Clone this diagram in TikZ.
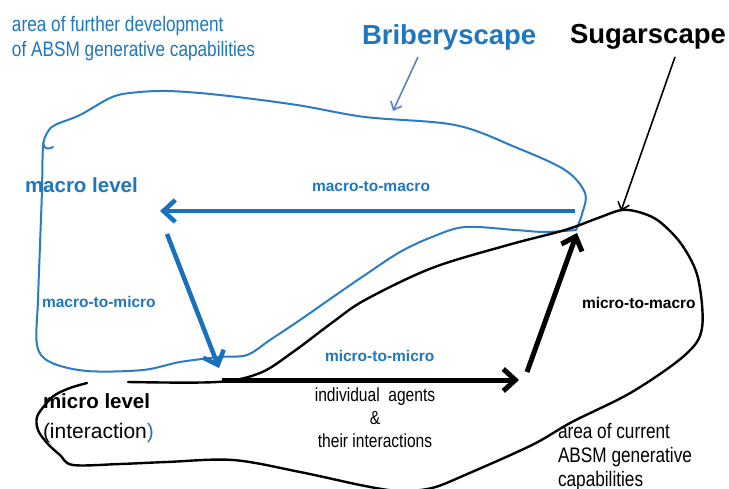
\documentclass[tikz,border=0pt]{standalone}
\usepackage{fontspec}
\setmainfont{Liberation Sans}
\newfontfamily\narrowf[FakeStretch=0.82]{Liberation Sans}
\usetikzlibrary{arrows.meta}
\definecolor{tblue}{HTML}{1F77BE}
\definecolor{cblue}{HTML}{2A7DC5}
\definecolor{ablue}{HTML}{1B70BD}
\definecolor{gblue}{HTML}{5A82C4}
\begin{document}
\begin{tikzpicture}[x=1pt,y=-1pt,
  lbl/.style={inner sep=0pt, outer sep=0pt, anchor=base west},
  clbl/.style={inner sep=0pt, outer sep=0pt, anchor=base},
  bigtitle/.style={font=\bfseries\fontsize{27.5}{32}\selectfont},
  levelfont/.style={font=\bfseries\fontsize{20.5}{24}\selectfont},
  linkfont/.style={font=\bfseries\fontsize{15.5}{18}\selectfont},
  narrowtext/.style={font=\narrowf\fontsize{21}{25}\selectfont},
  smalltext/.style={font=\narrowf\fontsize{19}{22}\selectfont},
  bluecurve/.style={draw=cblue, line width=2pt, line join=round, line cap=round},
  blackcurve/.style={draw=black, line width=2.4pt, line join=round, line cap=round},
  thickblue/.style={draw=ablue, line width=4.5pt, -{Straight Barb[length=12pt,width=22pt]}},
  thickblack/.style={draw=black, line width=5pt, -{Straight Barb[length=12pt,width=22pt]}},
  thinarrow/.style={line width=1.6pt, -{Straight Barb[length=7pt,width=12pt]}}
]
\useasboundingbox (0,0) rectangle (729,489);
\fill[white] (0,0) rectangle (729,489);

% regions
\draw[bluecurve] plot[smooth, tension=0.55] coordinates {
  (576,230) (545,232) (515,230) (465,227) (432,237) (400,252) (365,275)
  (333,297) (300,320) (270,340) (247,355) (220,357) (180,362) (143,370)
  (87,371) (50,362) (37,345) (38,300) (40,245) (42,190) (43,147)
  (47,133) (55,125) (80,115) (110,98) (130,93) (167,91) (220,95)
  (297,105) (365,117) (455,125) (515,147) (565,170) (585,193) (582,214) (576,230)};
\draw[bluecurve] (43,143) .. controls (44,149) and (48,150) .. (53,147);

\draw[blackcurve] plot[smooth, tension=0.55] coordinates {
  (87,383) (70,388) (55,395) (45,405) (37,417) (38,430) (47,443) (60,455)
  (73,465) (120,464) (167,462) (233,460) (300,472) (365,486) (400,491)
  (432,488) (465,475) (532,445) (572,422) (632,392) (685,355) (702,328)
  (698,278) (682,245) (660,222) (642,213) (622,210) (598,218) (565,230)
  (508,245) (432,268) (365,300) (333,322) (293,352) (260,373) (217,382) (128,382)};

% texts
\node[lbl, narrowtext, text=tblue] (t1) at (12,32) {area of further development};
\node[lbl, narrowtext, text=tblue] (t2) at (12,57) {of ABSM generative capabilities};
\node[lbl, bigtitle, text=tblue] (bs) at (362,45) {Briberyscape};
\node[lbl, bigtitle] (ss) at (570,44) {Sugarscape};
\node[lbl, levelfont, text=tblue] (macro) at (25,193) {macro level};
\node[lbl, linkfont, text=tblue] (mm) at (312,192) {macro-to-macro};
\node[lbl, linkfont, text=tblue] (mami) at (42,308) {macro-to-micro};
\node[lbl, linkfont, text=tblue] (mimi) at (325,362) {micro-to-micro};
\node[lbl, linkfont] (mima) at (582,309) {micro-to-macro};
\node[lbl, levelfont] (micro) at (43,408) {micro level};
\node[lbl, font=\fontsize{21}{25}\selectfont] (inter) at (43,438) {(interaction\textcolor{tblue}{)}};
\node[clbl, smalltext] (ia1) at (375,402) {individual\ \ agents};
\node[clbl, smalltext] (ia2) at (375,424) {\&};
\node[clbl, smalltext] (ia3) at (375,447) {their interactions};
\node[lbl, narrowtext] (c1) at (558,438) {area of current};
\node[lbl, narrowtext] (c2) at (558,462) {ABSM generative};
\node[lbl, narrowtext] (c3) at (558,486) {capabilities};

% arrow end points
\coordinate (a1s) at (575,211);
\coordinate (a1e) at (160,211);
\coordinate (a2s) at (167,234);
\coordinate (a2e) at (219,368);
\coordinate (a3s) at (222,380);
\coordinate (a3e) at (519,380);
\coordinate (a4s) at (527,372);
\coordinate (a4e) at (577,233);
\coordinate (b1s) at (418,57);
\coordinate (b1e) at (393,111);
\coordinate (s1s) at (675,57);
\coordinate (s1e) at (621,211);

\draw[thickblue] (a1s) -- (a1e);
\draw[thickblue] (a2s) -- (a2e);
\draw[thickblack] (a3s) -- (a3e);
\draw[thickblack] (a4s) -- (a4e);
\draw[thinarrow, draw=gblue] (b1s) -- (b1e);
\draw[thinarrow, draw=black] (s1s) -- (s1e);
\end{tikzpicture}
\end{document}
